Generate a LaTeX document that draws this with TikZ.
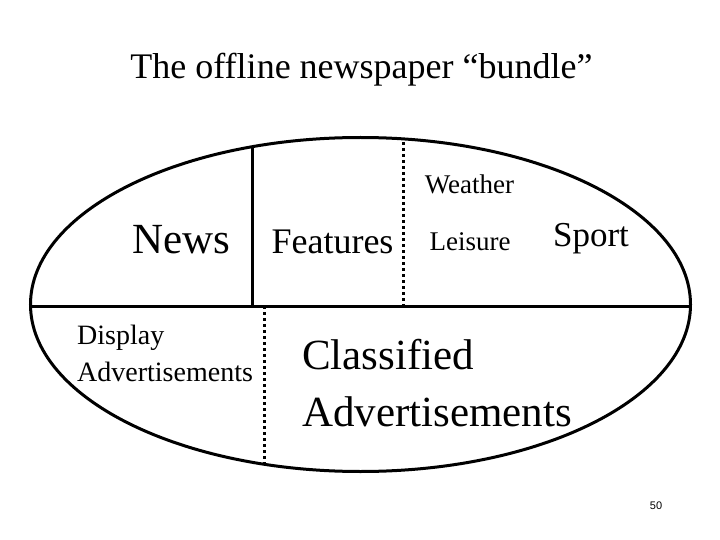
\documentclass[tikz,border=0pt]{standalone}
\usepackage{fontspec}
\setmainfont{Liberation Serif}
\newfontfamily\timesfont{Liberation Serif}
\newfontfamily\pagefont{Liberation Sans}
\usetikzlibrary{positioning}
\tikzset{
  rim/.style     ={draw, line width=3pt},
  split/.style   ={draw, line width=3pt},
  dotsplit/.style={draw, line width=3pt, dash pattern=on 3pt off 3pt},
  lbl/.style     ={inner sep=0pt, anchor=base},
  lblL/.style    ={inner sep=0pt, anchor=base west, align=left},
}

\begin{document}
\begin{tikzpicture}[x=1pt, y=-1pt]
  \useasboundingbox (0,0) rectangle (720,540);
  \node[lbl, font=\timesfont\fontsize{36}{43}\selectfont] (title) at (361.5,79) {The offline newspaper “bundle”};

  \draw[rim] (360.5,304.5) ellipse [x radius=330, y radius=167];
  \begin{scope}
    \clip (360.5,304.5) ellipse [x radius=330, y radius=167];
    \draw[split] (0,306) -- (720,306);
    \draw[split] (252,100) -- (252,306);
    \draw[dotsplit] (403,100) -- (403,306);
    \draw[dotsplit] (264,306) -- (264,500);
  \end{scope}

  % labels, placed by their baselines
  \node[lbl, font=\timesfont\fontsize{43}{50}\selectfont] (news) at (181.5,253) {News};
  \node[lbl, font=\timesfont\fontsize{36}{42}\selectfont] (features) at (332.5,253) {Features};
  \node[lbl, font=\timesfont\fontsize{27}{32}\selectfont] (weather) at (469.5,194) {Weather};
  \node[lbl, font=\timesfont\fontsize{27}{32}\selectfont] (leisure) at (470,250) {Leisure};
  \node[lbl, font=\timesfont\fontsize{35}{42}\selectfont] (sport) at (591,247) {Sport};
  \node[lblL, font=\timesfont\fontsize{28}{37}\selectfont] (display) at (77,381.5) {Display\\Advertisements};
  \node[lblL, font=\timesfont\fontsize{43}{57}\selectfont] (classified) at (302,426) {Classified\\Advertisements};
  \node[lbl, font=\pagefont\fontsize{11}{13}\selectfont] (pagenum) at (656,509) {50};
\end{tikzpicture}
\end{document}
